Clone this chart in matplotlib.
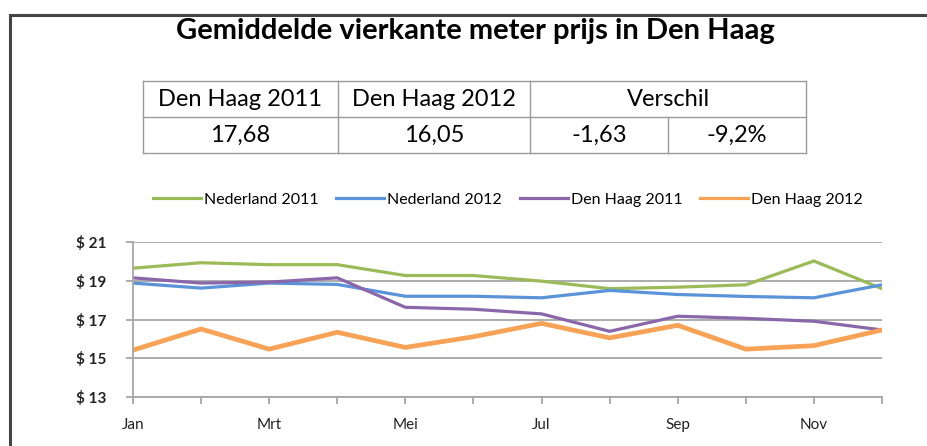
import numpy as np
import matplotlib.pyplot as plt
from matplotlib.lines import Line2D

plt.rcParams['font.family'] = ['Lato', 'DejaVu Sans']

months = ['Jan', 'Feb', 'Mrt', 'Apr', 'Mei', 'Jun', 'Jul', 'Aug', 'Sep', 'Okt', 'Nov', 'Dec']
nl_2011 = [19.65, 19.93, 19.83, 19.83, 19.27, 19.27, 18.98, 18.59, 18.67, 18.79, 20.02, 18.59]
nl_2012 = [18.88, 18.62, 18.88, 18.81, 18.20, 18.20, 18.12, 18.50, 18.29, 18.19, 18.12, 18.79]
dh_2011 = [19.15, 18.88, 18.93, 19.15, 17.63, 17.53, 17.29, 16.39, 17.17, 17.06, 16.91, 16.46]
dh_2012 = [15.42, 16.51, 15.47, 16.34, 15.56, 16.11, 16.80, 16.05, 16.70, 15.47, 15.65, 16.46]

series_names = ['Nederland 2011', 'Nederland 2012', 'Den Haag 2011', 'Den Haag 2012']
colors = ['#9bbb59', '#5b93d8', '#8a67ab', '#f7a256']
widths = [2.3, 2.3, 2.3, 3.4]

table_head = ['Den Haag 2011', 'Den Haag 2012', 'Verschil']
table_vals = ['17,68', '16,05', '-1,63', '-9,2%']

W, H = 927, 446
fig = plt.figure(figsize=(W / 100, H / 100), dpi=100)

# overlay in pixel coords for frame, title and table
bg = fig.add_axes([0, 0, 1, 1])
bg.set_xlim(0, W)
bg.set_ylim(H, 0)
bg.axis('off')
bg.plot([10, 10, W], [H, 15, 15], color='#444444', lw=2.2, solid_joinstyle='miter')
bg.text(475, 31, 'Gemiddelde vierkante meter prijs in Den Haag', ha='center', va='center',
        fontsize=21, fontweight='bold', color='black')

cols = [143, 338, 530, 668, 806]
rows = [81, 117, 153]
tc = '#9a9a9a'
for y in rows:
    bg.plot([cols[0], cols[-1]], [y, y], color=tc, lw=1)
for i, x in enumerate(cols):
    if i == 3:
        bg.plot([x, x], [rows[1], rows[2]], color=tc, lw=1)
    else:
        bg.plot([x, x], [rows[0], rows[2]], color=tc, lw=1)
head_x = [(cols[0] + cols[1]) / 2, (cols[1] + cols[2]) / 2, (cols[2] + cols[4]) / 2]
for x, t in zip(head_x, table_head):
    bg.text(x, (rows[0] + rows[1]) / 2, t, ha='center', va='center', fontsize=17, color='black')
for i, t in enumerate(table_vals):
    bg.text((cols[i] + cols[i + 1]) / 2, (rows[1] + rows[2]) / 2, t, ha='center', va='center',
            fontsize=17, color='black')

# line chart
ax = fig.add_axes([133 / W, 1 - 397 / H, (882 - 133) / W, (397 - 242) / H])
x = np.arange(len(months))
for data, c, lw in zip([nl_2011, nl_2012, dh_2011, dh_2012], colors, widths):
    ax.plot(x, data, color=c, lw=lw, solid_joinstyle='miter')

ax.set_xlim(0, len(months) - 1)
ax.set_ylim(13, 21)
ax.set_yticks([13, 15, 17, 19, 21])
ax.set_yticklabels(['$ %d' % v for v in [13, 15, 17, 19, 21]])
ax.set_xticks(x)
ax.set_xticklabels([m if i % 2 == 0 else '' for i, m in enumerate(months)])
ax.grid(axis='y', color='#a6a6a6', lw=1.3)
ax.set_axisbelow(True)
for s in ['top', 'right']:
    ax.spines[s].set_visible(False)
for s in ['left', 'bottom']:
    ax.spines[s].set_color('#a6a6a6')
    ax.spines[s].set_linewidth(1.3)
ax.tick_params(axis='both', color='#a6a6a6', width=1.3, length=5, labelsize=11, labelcolor='#222222')
ax.tick_params(axis='x', pad=10)
ax.tick_params(axis='y', pad=14)
for lbl in ax.get_yticklabels():
    lbl.set_fontweight('bold')

handles = [Line2D([], [], color=c, lw=2.3) for c in colors]
fig.legend(handles, series_names, loc='center', bbox_to_anchor=(508 / W, 1 - 200 / H), ncol=4,
           frameon=False, fontsize=11.5, handlelength=3.0, handletextpad=0.2, columnspacing=1.1)

fig.savefig('out.png', dpi=100)
